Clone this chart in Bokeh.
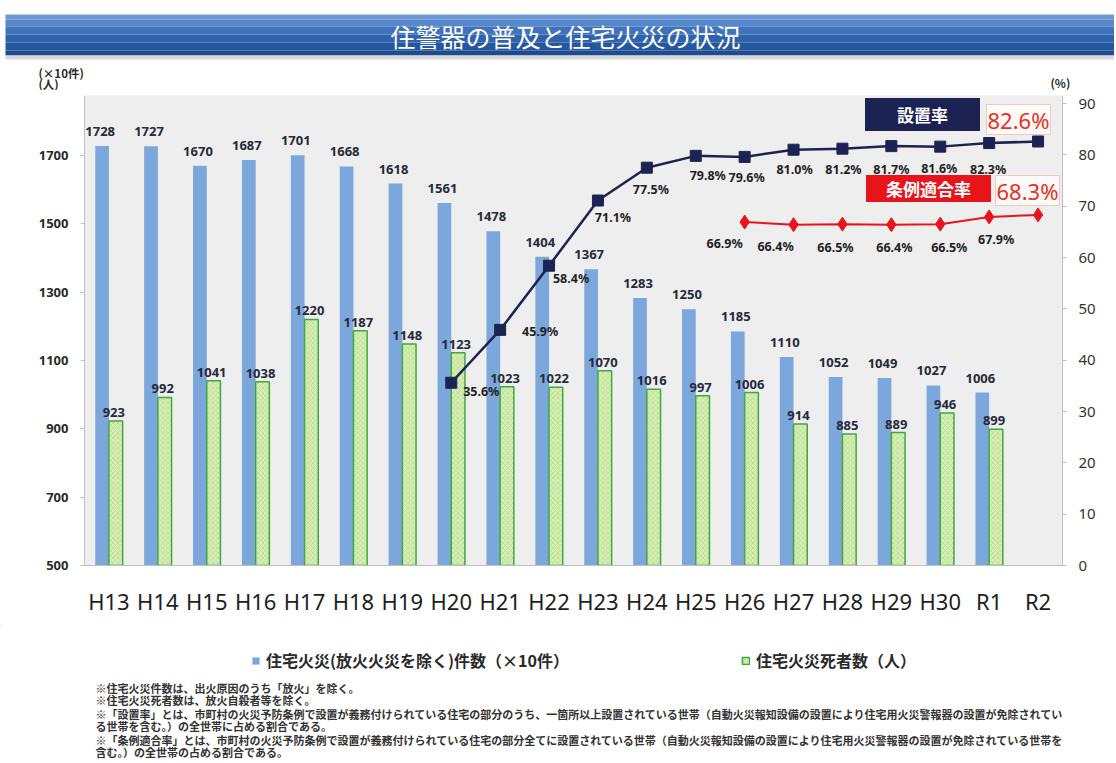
from bokeh.plotting import figure
from bokeh.layouts import column
from bokeh.models import (Range1d, FactorRange, LinearAxis, FixedTicker, ColumnDataSource,
                          Label, Legend, LegendItem)
from bokeh.transform import dodge
from bokeh.core.properties import value
from bokeh.embed import file_html
from bokeh.resources import INLINE

# ---------------- data ----------------
categories = ["H13", "H14", "H15", "H16", "H17", "H18", "H19", "H20", "H21", "H22",
              "H23", "H24", "H25", "H26", "H27", "H28", "H29", "H30", "R1", "R2"]
fires = [1728, 1727, 1670, 1687, 1701, 1668, 1618, 1561, 1478, 1404,
         1367, 1283, 1250, 1185, 1110, 1052, 1049, 1027, 1006, None]
deaths = [923, 992, 1041, 1038, 1220, 1187, 1148, 1123, 1023, 1022,
          1070, 1016, 997, 1006, 914, 885, 889, 946, 899, None]
install_rate = [None] * 7 + [35.6, 45.9, 58.4, 71.1, 77.5, 79.8, 79.6,
                             81.0, 81.2, 81.7, 81.6, 82.3, 82.6]
compliance_rate = [None] * 13 + [66.9, 66.4, 66.5, 66.4, 66.5, 67.9, 68.3]
left_ticks = [500, 700, 900, 1100, 1300, 1500, 1700]
right_ticks = [0, 10, 20, 30, 40, 50, 60, 70, 80, 90]

title_text = "住警器の普及と住宅火災の状況"
fires_name = "住宅火災(放火火災を除く)件数（×10件）"
deaths_name = "住宅火災死者数（人）"
install_name = "設置率"
compliance_name = "条例適合率"
left_unit = ["(×10件)", "(人)"]
right_unit = "(%)"
notes = [
    "※住宅火災件数は、出火原因のうち「放火」を除く。",
    "※住宅火災死者数は、放火自殺者等を除く。",
    "※「設置率」とは、市町村の火災予防条例で設置が義務付けられている住宅の部分のうち、一箇所以上設置されている世帯（自動火災報知設備の設置により住宅用火災警報器の設置が免除されてい",
    "る世帯を含む。）の全世帯に占める割合である。",
    "※「条例適合率」とは、市町村の火災予防条例で設置が義務付けられている住宅の部分全てに設置されている世帯（自動火災報知設備の設置により住宅用火災警報器の設置が免除されている世帯を",
    "含む。）の全世帯の占める割合である。",
]

# ---------------- label offsets (layout only) ----------------
install_dx = [30, 40, 22, 15, 4, 12, 2, 1, 1, 0, -1, -1, 0]
install_dy = [9, 2, 13, 17, 22, 20, 21, 20, 21, 23, 22, 26, 0]
compl_dx = [-20, -18, -7, 3, 9, 7, 0]
compl_dy = [21, 22, 23, 23, 23, 23, 0]

FONT = "Noto Sans CJK JP"
NUMF = "Noto Sans"
W_PAGE = 1114
TOP_H, MAIN_H, BOT_H = 90, 535, 136

# ---------------- sources ----------------
bar_idx = [i for i, v in enumerate(fires) if v is not None]
bars = ColumnDataSource(dict(
    cat=[categories[i] for i in bar_idx],
    fires=[fires[i] for i in bar_idx],
    deaths=[deaths[i] for i in bar_idx],
    fires_lbl=[str(fires[i]) for i in bar_idx],
    deaths_lbl=[str(deaths[i]) for i in bar_idx],
))
ins_idx = [i for i, v in enumerate(install_rate) if v is not None]
ins = ColumnDataSource(dict(
    cat=[categories[i] for i in ins_idx],
    rate=[install_rate[i] for i in ins_idx],
    lbl=[("%.1f%%" % install_rate[i]) for i in ins_idx],
    dx=install_dx, dy=install_dy,
))
ins_lbl = ColumnDataSource(dict((k, v[:-1]) for k, v in ins.data.items()))
com_idx = [i for i, v in enumerate(compliance_rate) if v is not None]
com = ColumnDataSource(dict(
    cat=[categories[i] for i in com_idx],
    rate=[compliance_rate[i] for i in com_idx],
    lbl=[("%.1f%%" % compliance_rate[i]) for i in com_idx],
    dx=compl_dx, dy=compl_dy,
))
com_lbl = ColumnDataSource(dict((k, v[:-1]) for k, v in com.data.items()))

# ================= top strip: title banner and unit captions =================
top = figure(width=W_PAGE, height=TOP_H, x_range=Range1d(0, W_PAGE), y_range=Range1d(TOP_H, 0),
             x_axis_location=None, y_axis_location=None, min_border=0, frame_align=False,
             output_backend="svg", toolbar_location=None, outline_line_color=None,
             background_fill_color="white", border_fill_color="white")
top.grid.visible = False
band_top = [14, 19, 26, 34, 42, 50]
band_bot = [19, 26, 34, 42, 50, 55]
band_col = ["#6d9ad6", "#5788cb", "#3f73bb", "#2f64ad", "#24579f", "#1d4b8e"]
top.quad(left=5, right=W_PAGE, top=band_top, bottom=band_bot, fill_color=band_col,
         line_color=None)
top.quad(left=5, right=W_PAGE, top=55, bottom=59, fill_color="#d8d8d8", line_color=None)
top.text(x=[565], y=[35], text=[title_text], text_align="center", text_baseline="middle",
         text_font=value(FONT), text_font_size="25px", text_color="white")
top.text(x=[38, 38], y=[72, 83], text=left_unit, text_align="left", text_baseline="middle",
         text_font=value(FONT), text_font_size="11.5px", text_font_style="bold",
         text_color="#2a2a2a")
top.text(x=[1050], y=[82], text=[right_unit], text_align="left", text_baseline="middle",
         text_font=value(FONT), text_font_size="11.5px", text_font_style="bold",
         text_color="#2a2a2a")

# ================= main chart =================
Y_LO, Y_HI = 500, 1875.6
P_HI = 91.56
p = figure(width=W_PAGE, height=MAIN_H, x_range=FactorRange(*categories, range_padding=0),
           y_range=Range1d(Y_LO, Y_HI), output_backend="svg", toolbar_location=None,
           min_border_left=84, min_border_right=W_PAGE - 1062, min_border_top=95 - TOP_H,
           min_border_bottom=60, frame_align=False,
           background_fill_color="#eeeeee", border_fill_color="white",
           outline_line_color=None)
p.extra_y_ranges = {"pct": Range1d(0, P_HI)}
p.grid.visible = False


def Y(py):
    return Y_LO + (565 - py) * (Y_HI - Y_LO) / 470.0


def X(px):
    return (px - 84) / 48.9


p.yaxis.ticker = FixedTicker(ticks=left_ticks)
p.yaxis.major_label_text_font = NUMF
p.yaxis.major_label_text_font_size = "13px"
p.yaxis.major_label_text_font_style = "bold"
p.yaxis.major_label_text_color = "#2a2a2a"
p.yaxis.axis_line_color = "#c0c0c0"
p.yaxis.major_tick_line_color = "#c0c0c0"
p.yaxis.major_tick_out = 4
p.yaxis.major_tick_in = 0
p.yaxis.minor_tick_line_color = None
p.yaxis.major_label_standoff = 12

p.xaxis.major_label_text_font = NUMF
p.xaxis.major_label_text_font_size = "22px"
p.xaxis.major_label_text_color = "#1e1e1e"
p.xaxis.axis_line_color = "#c0c0c0"
p.xaxis.major_tick_line_color = None
p.xaxis.major_label_standoff = 14

ry = LinearAxis(y_range_name="pct", ticker=FixedTicker(ticks=right_ticks))
ry.major_label_text_font = NUMF
ry.major_label_text_font_size = "15px"
ry.major_label_text_color = "#333333"
ry.axis_line_color = "#c0c0c0"
ry.major_tick_line_color = "#c0c0c0"
ry.major_tick_out = 4
ry.major_tick_in = 0
ry.minor_tick_line_color = None
ry.major_label_standoff = 12
p.add_layout(ry, "right")

BLUE = "#7ba7dc"
GFILL, GLINE, GHATCH = "#d6edb4", "#3fa83f", "#a9d27f"
W = 0.28
p.vbar(x=dodge("cat", -0.14, range=p.x_range), top="fires", bottom=Y_LO, width=W,
       source=bars, fill_color=BLUE, line_color=None)
p.vbar(x=dodge("cat", 0.14, range=p.x_range), top="deaths", bottom=Y_LO, width=W,
       source=bars, fill_color=GFILL, line_color=GLINE, line_width=1.5,
       hatch_pattern="diagonal_cross", hatch_color=GHATCH, hatch_scale=5,
       hatch_alpha=0.6, hatch_weight=0.8)

p.text(x=dodge("cat", -0.18, range=p.x_range), y="fires", text="fires_lbl", source=bars,
       text_align="center", text_baseline="bottom", y_offset=-10,
       text_font=value(NUMF), text_font_size="13px", text_font_style="bold",
       text_color="#262a3a")
p.text(x=dodge("cat", 0.1, range=p.x_range), y="deaths", text="deaths_lbl", source=bars,
       text_align="center", text_baseline="bottom", y_offset=-4,
       text_font=value(NUMF), text_font_size="13px", text_font_style="bold",
       text_color="#262a3a")

NAVY, RED = "#1c2352", "#e8141c"
p.line(x="cat", y="rate", source=ins, y_range_name="pct", line_color=NAVY, line_width=2.5)
p.scatter(x="cat", y="rate", source=ins, y_range_name="pct", marker="square", size=11,
          fill_color=NAVY, line_color=NAVY)
p.line(x="cat", y="rate", source=com, y_range_name="pct", line_color=RED, line_width=2)
p.scatter(x="cat", y="rate", source=com, y_range_name="pct", marker="diamond", size=14,
          fill_color=RED, line_color=RED)

for src in (ins_lbl, com_lbl):
    p.text(x="cat", y="rate", text="lbl", source=src, y_range_name="pct",
           x_offset="dx", y_offset="dy", text_align="center", text_baseline="middle",
           text_font=value(NUMF), text_font_size="12.5px", text_font_style="bold",
           text_color="#1f1f1f")

p.add_layout(Label(x=X(922), y=Y(114), text=install_name, text_align="center",
                   text_baseline="middle", text_font=FONT, text_font_size="17px",
                   text_font_style="bold", text_color="white", background_fill_color=NAVY,
                   padding=dict(left=32, right=32, top=4, bottom=4)))
p.add_layout(Label(x=X(1018), y=Y(119), text="%.1f%%" % install_rate[-1], text_align="center",
                   text_baseline="middle", text_font=NUMF, text_font_size="22px",
                   text_color="#e8301c", background_fill_color="#fdfbfa",
                   border_line_color="#f2c7bd", padding=dict(left=1, right=1, top=0, bottom=0)))
p.add_layout(Label(x=X(928), y=Y(188), text=compliance_name, text_align="center",
                   text_baseline="middle", text_font=FONT, text_font_size="17px",
                   text_font_style="bold", text_color="white", background_fill_color=RED,
                   padding=dict(left=20, right=20, top=1, bottom=1)))
p.add_layout(Label(x=X(1027), y=Y(190), text="%.1f%%" % compliance_rate[-1], text_align="center",
                   text_baseline="middle", text_font=NUMF, text_font_size="22px",
                   text_color="#e8301c", background_fill_color="#fdfbfa",
                   border_line_color="#f2c7bd", padding=dict(left=1, right=1, top=0, bottom=0)))

# ================= bottom strip: legend and notes =================
B0 = TOP_H + MAIN_H
bot = figure(width=W_PAGE, height=BOT_H, x_range=Range1d(0, W_PAGE),
             y_range=Range1d(B0 + BOT_H, B0),
             x_axis_location=None, y_axis_location=None, min_border=0, frame_align=False,
             output_backend="svg", toolbar_location=None, outline_line_color=None,
             background_fill_color="white", border_fill_color="white")
bot.grid.visible = False
# legend proxies: one point each, placed outside the visible range
lb = bot.vbar(x=[-1000], top=[0], width=1, fill_color=BLUE, line_color=None)
lg = bot.vbar(x=[-1000], top=[0], width=1, fill_color=GFILL, line_color=GLINE, line_width=1.5,
              hatch_pattern="diagonal_cross", hatch_color=GHATCH, hatch_scale=4,
              hatch_alpha=0.6, hatch_weight=0.8)
legend = Legend(items=[LegendItem(label=fires_name, renderers=[lb]),
                       LegendItem(label=deaths_name, renderers=[lg])],
                orientation="horizontal", location=(251, BOT_H - (672 - B0)), spacing=172,
                label_text_font=FONT, label_text_font_size="16px",
                label_text_font_style="bold", label_text_color="#2a2a2a",
                glyph_width=9, glyph_height=9, label_standoff=6, border_line_color=None,
                background_fill_alpha=0, margin=0, padding=0)
bot.add_layout(legend, "center")

bot.text(x=[95] * len(notes), y=[687, 699, 713, 725, 739, 751], text=notes,
         text_align="left", text_baseline="middle", text_font=value(FONT),
         text_font_size="11px", text_font_style="bold", text_color="#333333")

layout = column(top, p, bot, spacing=0)
open("out.html", "w").write(file_html(layout, INLINE))
